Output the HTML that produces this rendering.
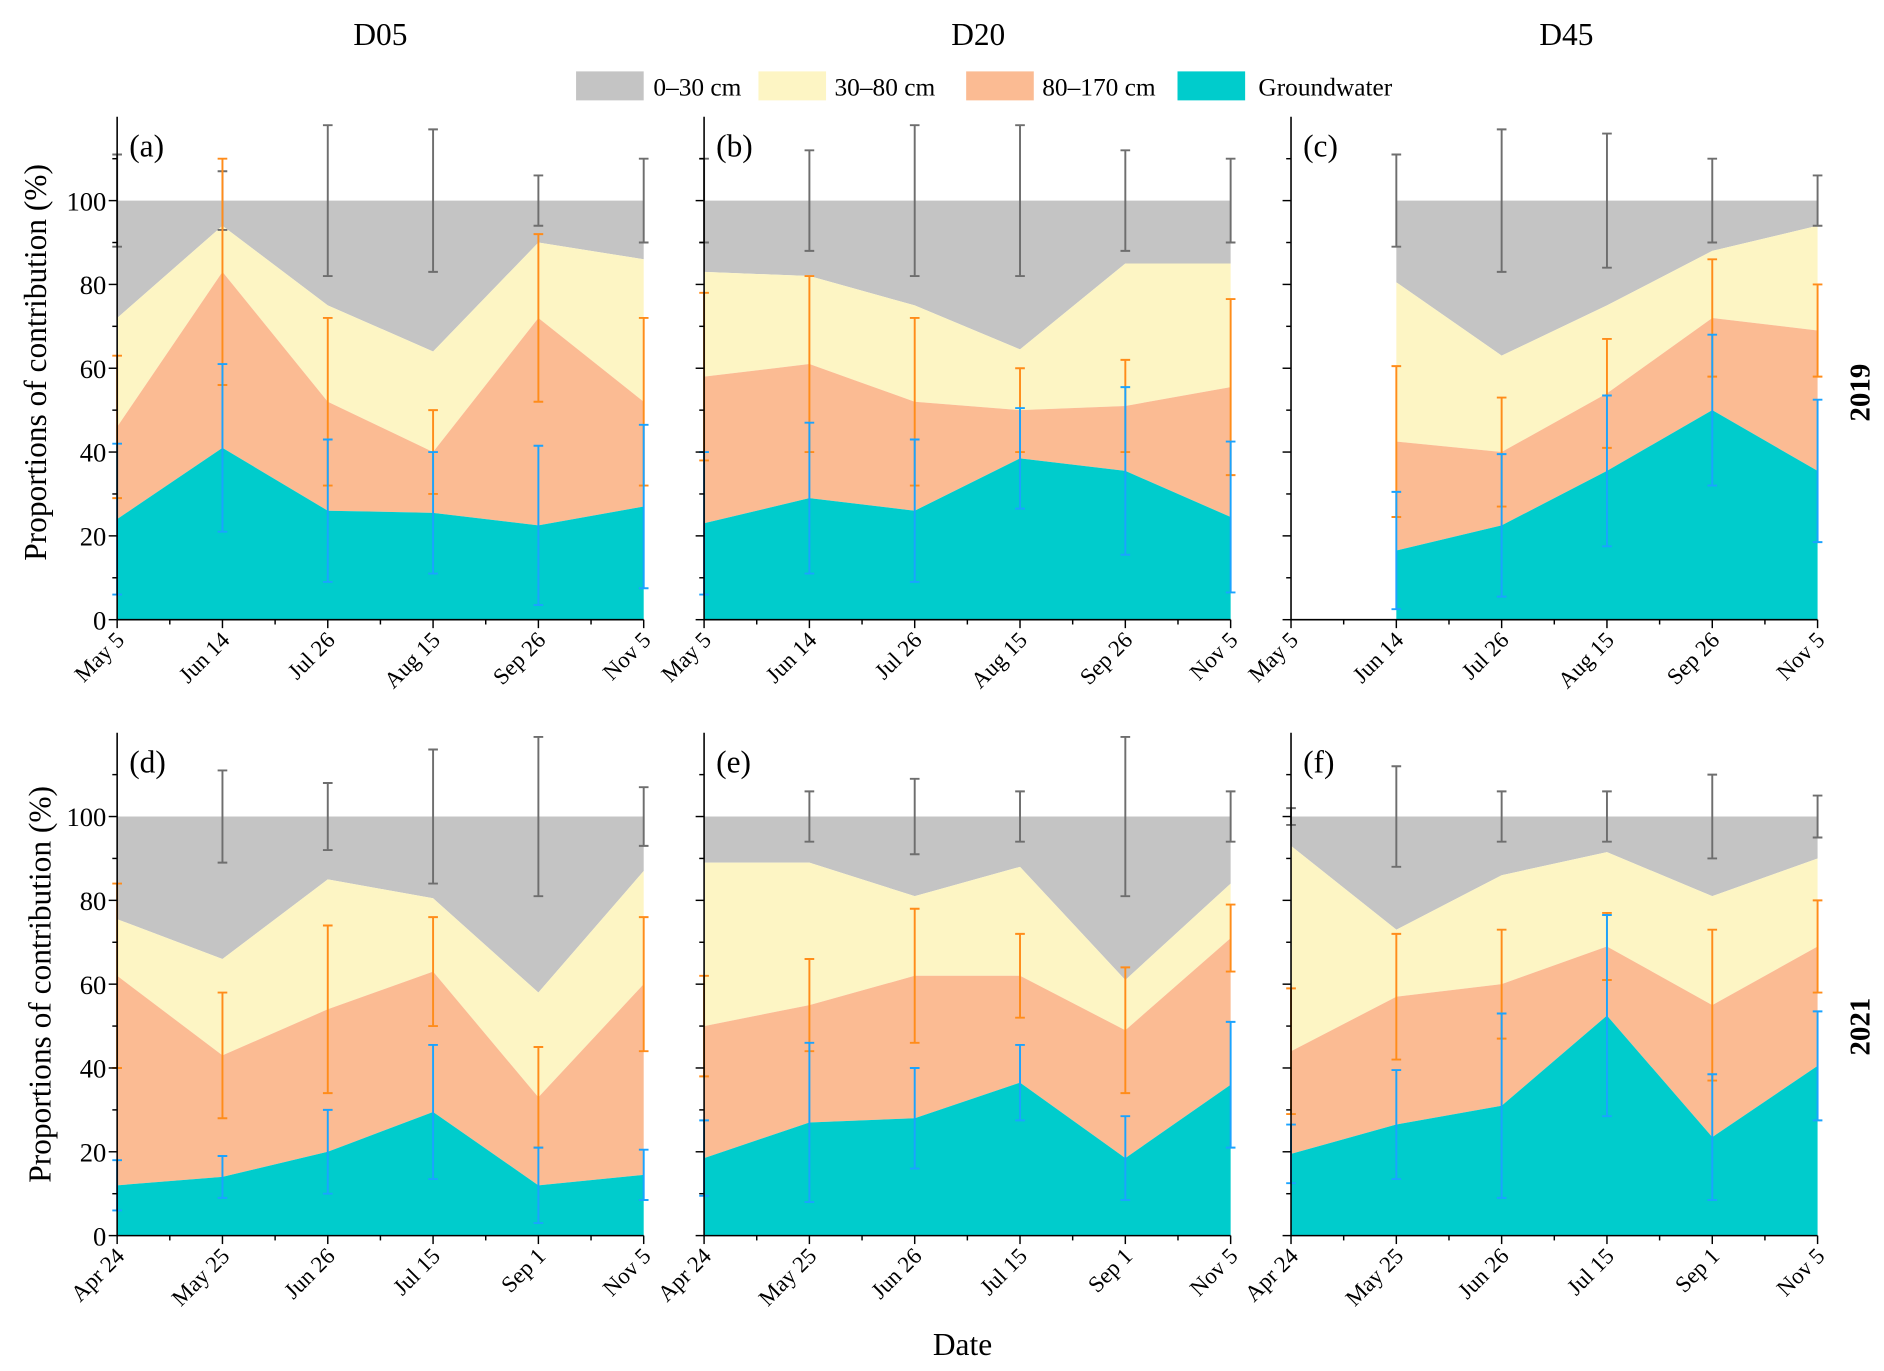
<!DOCTYPE html>
<html><head><meta charset="utf-8"><style>
html,body{margin:0;padding:0;background:#fff}
svg{display:block;font-family:"Liberation Serif",serif}
</style></head><body>
<svg id="chart" width="1884" height="1371" viewBox="0 0 1560 1135" xmlns="http://www.w3.org/2000/svg">
<g font-size="26" text-anchor="middle">
<text x="315" y="37">D05</text>
<text x="810" y="37">D20</text>
<text x="1297" y="37">D45</text>
</g>
<g font-size="21">
<g><rect x="477" y="59" width="56" height="24" fill="#c4c4c4"/><text x="541" y="79">0–30 cm</text></g>
<g><rect x="628" y="59" width="56" height="24" fill="#fdf5c4"/><text x="691" y="79">30–80 cm</text></g>
<g><rect x="800" y="59" width="56" height="24" fill="#fbbb93"/><text x="863" y="79">80–170 cm</text></g>
<g><rect x="975" y="59" width="56" height="24" fill="#00cccc"/><text x="1042" y="79">Groundwater</text></g>
</g>
<text font-size="26" text-anchor="middle" transform="translate(38,300) rotate(-90)">Proportions of contribution (%)</text>
<text font-size="26" text-anchor="middle" transform="translate(42,815) rotate(-90)">Proportions of contribution (%)</text>
<text font-size="24" font-weight="bold" text-anchor="middle" transform="translate(1548,325) rotate(-90)">2019</text>
<text font-size="24" font-weight="bold" text-anchor="middle" transform="translate(1548,850) rotate(-90)">2021</text>
<text font-size="26" text-anchor="middle" x="797" y="1122">Date</text>
<g id="panels"></g>
</svg>
<script>
const dates2019 = ["May 5","Jun 14","Jul 26","Aug 15","Sep 26","Nov 5"];
const dates2021 = ["Apr 24","May 25","Jun 26","Jul 15","Sep 1","Nov 5"];
const yTicks = [0,20,40,60,80,100];
const panelLabels = ["(a)","(b)","(c)","(d)","(e)","(f)"];
const gwA=[24,41,26,25.5,22.5,27], c2A=[46,83,52,40,72,52], c3A=[72,94,75,64,90,86];
const gwB=[23,29,26,38.5,35.5,24.5], c2B=[58,61,52,50,51,55.5], c3B=[83,82,75,64.5,85,85];
const gwC=[null,16.5,22.5,35.5,50,35.5], c2C=[null,42.5,40,54,72,69], c3C=[null,80.5,63,75,88,94];
const gwD=[12,14,20,29.5,12,14.5], c2D=[62,43,54,63,33,60], c3D=[75.5,66,85,80.5,58,87];
const gwE=[18.5,27,28,36.5,18.5,36], c2E=[50,55,62,62,49,71], c3E=[89,89,81,88,61,84];
const gwF=[19.5,26.5,31,52.5,23.5,40.5], c2F=[44,57,60,69,55,69], c3F=[93,73,86,91.5,81,90];
const errGrayA=[11,7,18,17,6,10], errOrA=[17,27,20,10,20,20], errBlA=[18,20,17,14.5,19,19.5];
const errGrayB=[10,12,18,18,12,10], errOrB=[20,21,20,10,11,21], errBlB=[17,18,17,12,20,18];
const errGrayC=[null,11,17,16,10,6], errOrC=[null,18,13,13,14,11], errBlC=[null,14,17,18,18,17];
const errGrayD=[0,11,8,16,19,7], errOrD=[22,15,20,13,12,16], errBlD=[6,5,10,16,9,6];
const errGrayE=[0,6,9,6,19,6], errOrE=[12,11,16,10,15,8], errBlE=[9,19,12,9,10,15];
const errGrayF=[2,12,6,6,10,5], errOrF=[15,15,13,8,18,11], errBlF=[7,13,22,24,15,13];

const panels=[
 {gw:gwA,c2:c2A,c3:c3A,eg:errGrayA,eo:errOrA,eb:errBlA,x0:97,y0:513,d:dates2019,lab:true},
 {gw:gwB,c2:c2B,c3:c3B,eg:errGrayB,eo:errOrB,eb:errBlB,x0:583,y0:513,d:dates2019,lab:false},
 {gw:gwC,c2:c2C,c3:c3C,eg:errGrayC,eo:errOrC,eb:errBlC,x0:1069,y0:513,d:dates2019,lab:false},
 {gw:gwD,c2:c2D,c3:c3D,eg:errGrayD,eo:errOrD,eb:errBlD,x0:97,y0:1023,d:dates2021,lab:true},
 {gw:gwE,c2:c2E,c3:c3E,eg:errGrayE,eo:errOrE,eb:errBlE,x0:583,y0:1023,d:dates2021,lab:false},
 {gw:gwF,c2:c2F,c3:c3F,eg:errGrayF,eo:errOrF,eb:errBlF,x0:1069,y0:1023,d:dates2021,lab:false}
];
const NS="http://www.w3.org/2000/svg";
const root=document.getElementById('panels');
function mk(tag,attrs,parent){const e=document.createElementNS(NS,tag);for(const k in attrs)e.setAttribute(k,attrs[k]);parent.appendChild(e);return e;}
const W=436, K=3.47;
panels.forEach((p,pi)=>{
 const g=mk('g',{},root);
 
 
 const xs=i=>p.x0+i*W/(p.d.length-1);
 const ys=v=>p.y0-v*K;
 const idx=p.gw.map((v,i)=>v==null?-1:i).filter(i=>i>=0);
 function area(top,bot,fill,name){
  let d='';
  idx.forEach((i,k)=>{d+=(k?'L':'M')+xs(i)+','+ys(top(i));});
  for(let k=idx.length-1;k>=0;k--){const i=idx[k];d+='L'+xs(i)+','+ys(bot(i));}
  const e=mk('path',{d:d+'Z',fill:fill},g);
  
  
 }
 area(i=>100,i=>p.c3[i],'#c4c4c4','area-0-30');
 area(i=>p.c3[i],i=>p.c2[i],'#fdf5c4','area-30-80');
 area(i=>p.c2[i],i=>p.gw[i],'#fbbb93','area-80-170');
 area(i=>p.gw[i],i=>0,'#00cccc','area-groundwater');
 function bars(center,err,color,name){
  idx.forEach(i=>{
   if(err[i]==null||err[i]===0)return;
   const x=xs(i),c=center(i),lo=ys(c-err[i]),hi=ys(c+err[i]);
   const e=mk('path',{d:`M${x},${lo}V${hi}M${x-4},${lo}H${x+4}M${x-4},${hi}H${x+4}`,stroke:color,'stroke-width':1.6,fill:'none'},g);
   
   
  });
 }
 bars(i=>100,p.eg,'#6e6e6e','error-bar-0-30');
 bars(i=>p.c2[i],p.eo,'#ff8c1a','error-bar-80-170');
 bars(i=>p.gw[i],p.eb,'#1aa3ff','error-bar-groundwater');
 const ax=mk('path',{d:`M${p.x0},${ys(120)}V${p.y0}H${p.x0+W}`,stroke:'#000','stroke-width':1.3,fill:'none'},g);
 
 
 for(let v=0;v<=110;v+=10){
  const t=mk('line',{x1:p.x0,x2:p.x0-(v%20?4:7),y1:ys(v),y2:ys(v),stroke:'#000','stroke-width':1.2},g);
  
  
 }
 if(p.lab) yTicks.forEach(v=>{
  const t=mk('text',{x:p.x0-9,y:ys(v)+8,'text-anchor':'end','font-size':22},g);
  t.textContent=v;
  
  
 });
 const n=p.d.length;
 for(let k=0;k<=2*(n-1);k++){
  const x=p.x0+k*W/(2*(n-1));
  const t=mk('line',{x1:x,x2:x,y1:p.y0,y2:p.y0+(k%2?4:7),stroke:'#000','stroke-width':1.2},g);
  
  
 }
 p.d.forEach((s,i)=>{
  const t=mk('text',{'text-anchor':'end','font-size':19,transform:`translate(${xs(i)+7},${p.y0+18}) rotate(-45)`},g);
  t.textContent=s;
  
  
 });
 const l=mk('text',{x:p.x0+10,y:p.y0-K*120+33,'font-size':26},g);
 l.textContent=panelLabels[pi];
 
 
});
</script>
</body></html>
